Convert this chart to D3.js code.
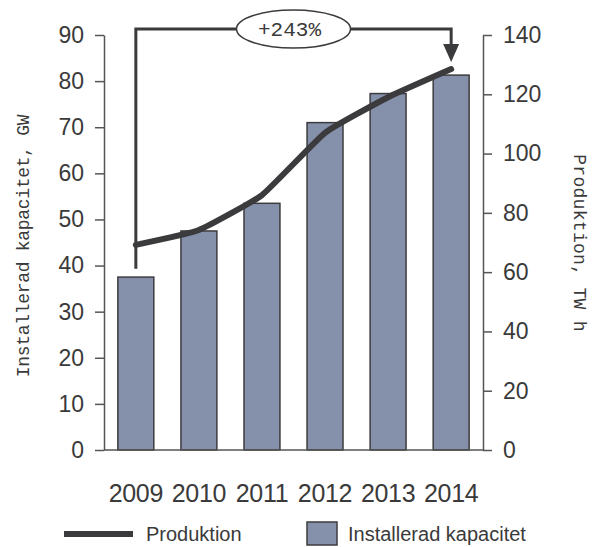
<!DOCTYPE html>
<html>
<head>
<meta charset="utf-8">
<script src="https://cdn.jsdelivr.net/npm/d3@7"></script>
<style>
  body { margin: 0; background: #fff; }
  svg { display: block; }
</style>
</head>
<body>
<div id="chart"></div>
<script>
// data
const YEARS = ['2009', '2010', '2011', '2012', '2013', '2014'];
const CAPACITY = [37.5, 47.5, 53.5, 71, 77.3, 81.3];      // GW, bars
const PRODUCTION = [69.2, 74.2, 86, 107, 119, 128.5];     // TW h, line
const LEFT_TICKS = [0, 10, 20, 30, 40, 50, 60, 70, 80, 90];
const RIGHT_TICKS = [0, 20, 40, 60, 80, 100, 120, 140];
const GROWTH_LABEL = '+243%';

const W = 594, H = 547;
const PLOT = { left: 104, right: 483, top: 35, bottom: 450 };

const COLORS = {
  bar: '#8591ab',
  barStroke: '#3c3c3e',
  line: '#3b3b3d',
  axis: '#555',
  text: '#3a3a3a'
};

const SANS = '"Liberation Sans", Arial, sans-serif';
const MONO = '"Courier New", "Liberation Mono", monospace';

const svg = d3.select('#chart').append('svg')
  .attr('width', W)
  .attr('height', H)
  .attr('viewBox', `0 0 ${W} ${H}`);

const x = d3.scaleBand()
  .domain(YEARS)
  .range([PLOT.left, PLOT.right])
  .paddingInner(0.43)
  .paddingOuter(0.22);

const yL = d3.scaleLinear().domain([0, 90]).range([PLOT.bottom, PLOT.top]);
const yR = d3.scaleLinear().domain([0, 140]).range([PLOT.bottom, PLOT.top]);

const cx = d => x(d) + x.bandwidth() / 2;

// bars
svg.append('g').attr('class', 'bars')
  .selectAll('rect')
  .data(YEARS)
  .join('rect')
  .attr('x', d => x(d))
  .attr('y', (d, i) => yL(CAPACITY[i]))
  .attr('width', x.bandwidth())
  .attr('height', (d, i) => yL(0) - yL(CAPACITY[i]))
  .attr('fill', COLORS.bar)
  .attr('stroke', COLORS.barStroke)
  .attr('stroke-width', 1.5);

// axes
const styleAxis = g => {
  g.select('.domain').attr('stroke', COLORS.axis).attr('stroke-width', 1.5);
  g.selectAll('.tick line').attr('stroke', COLORS.axis).attr('stroke-width', 1.5);
  g.selectAll('.tick text')
    .attr('fill', COLORS.text)
    .attr('font-family', SANS)
    .attr('font-size', 23);
};

svg.append('g')
  .attr('transform', `translate(${PLOT.left},0)`)
  .call(d3.axisLeft(yL).tickValues(LEFT_TICKS).tickSize(9).tickSizeOuter(0).tickPadding(11))
  .call(styleAxis);

svg.append('g')
  .attr('transform', `translate(${PLOT.right},0)`)
  .call(d3.axisRight(yR).tickValues(RIGHT_TICKS).tickSize(9).tickSizeOuter(0).tickPadding(11))
  .call(styleAxis);

// baseline
svg.append('line')
  .attr('x1', PLOT.left).attr('x2', PLOT.right)
  .attr('y1', yL(0)).attr('y2', yL(0))
  .attr('stroke', COLORS.axis).attr('stroke-width', 1.5);

// year labels
svg.append('g')
  .selectAll('text')
  .data(YEARS)
  .join('text')
  .attr('x', d => cx(d))
  .attr('y', 502)
  .attr('text-anchor', 'middle')
  .attr('font-family', SANS)
  .attr('font-size', 25)
  .attr('letter-spacing', -0.3)
  .attr('fill', COLORS.text)
  .text(d => d);

// axis titles
svg.append('text')
  .attr('transform', `translate(29,246) rotate(-90)`)
  .attr('text-anchor', 'middle')
  .attr('font-family', MONO)
  .attr('font-size', 18)
  .attr('letter-spacing', -0.3)
  .attr('fill', COLORS.text)
  .text('Installerad kapacitet, GW');

svg.append('text')
  .attr('transform', `translate(574,243) rotate(90)`)
  .attr('text-anchor', 'middle')
  .attr('font-family', MONO)
  .attr('font-size', 18)
  .attr('letter-spacing', 0.3)
  .attr('fill', COLORS.text)
  .text('Produktion, TW h');

// growth annotation bracket
const first = YEARS[0], last = YEARS[YEARS.length - 1];
const topY = 29;
const arrowTip = yR(PRODUCTION[PRODUCTION.length - 1]) - 7;
svg.append('path')
  .attr('d', `M${cx(first)},${yR(PRODUCTION[0]) + 24} V${topY} H${cx(last)} V${arrowTip - 14}`)
  .attr('fill', 'none')
  .attr('stroke', COLORS.line)
  .attr('stroke-width', 3);

svg.append('path')
  .attr('d', `M${cx(last) - 8},${arrowTip - 18} L${cx(last) + 8},${arrowTip - 18} L${cx(last)},${arrowTip} Z`)
  .attr('fill', COLORS.line);

const midX = (cx(first) + cx(last)) / 2;
svg.append('ellipse')
  .attr('cx', midX)
  .attr('cy', topY)
  .attr('rx', 57)
  .attr('ry', 19)
  .attr('fill', '#fff')
  .attr('stroke', COLORS.line)
  .attr('stroke-width', 1.5);

svg.append('text')
  .attr('x', midX - 4)
  .attr('y', topY + 7)
  .attr('text-anchor', 'middle')
  .attr('font-family', MONO)
  .attr('font-size', 21)
  .attr('fill', COLORS.text)
  .text(GROWTH_LABEL);

// production line
const line = d3.line()
  .x((d, i) => cx(YEARS[i]))
  .y(d => yR(d))
  .curve(d3.curveCardinal.tension(0.6));

svg.append('path')
  .datum(PRODUCTION)
  .attr('d', line)
  .attr('fill', 'none')
  .attr('stroke', COLORS.line)
  .attr('stroke-width', 6)
  .attr('stroke-linecap', 'round')
  .attr('stroke-linejoin', 'round');

// legend
const legend = svg.append('g');
legend.append('line')
  .attr('x1', 64).attr('x2', 133)
  .attr('y1', 534).attr('y2', 534)
  .attr('stroke', COLORS.line)
  .attr('stroke-width', 6);
legend.append('text')
  .attr('x', 146).attr('y', 541)
  .attr('font-family', SANS)
  .attr('font-size', 20)
  .attr('fill', COLORS.text)
  .text('Produktion');
legend.append('rect')
  .attr('x', 307).attr('y', 522)
  .attr('width', 30).attr('height', 23)
  .attr('fill', COLORS.bar)
  .attr('stroke', COLORS.barStroke)
  .attr('stroke-width', 1.5);
legend.append('text')
  .attr('x', 348).attr('y', 541)
  .attr('font-family', SANS)
  .attr('font-size', 20)
  .attr('fill', COLORS.text)
  .text('Installerad kapacitet');
</script>
</body>
</html>
